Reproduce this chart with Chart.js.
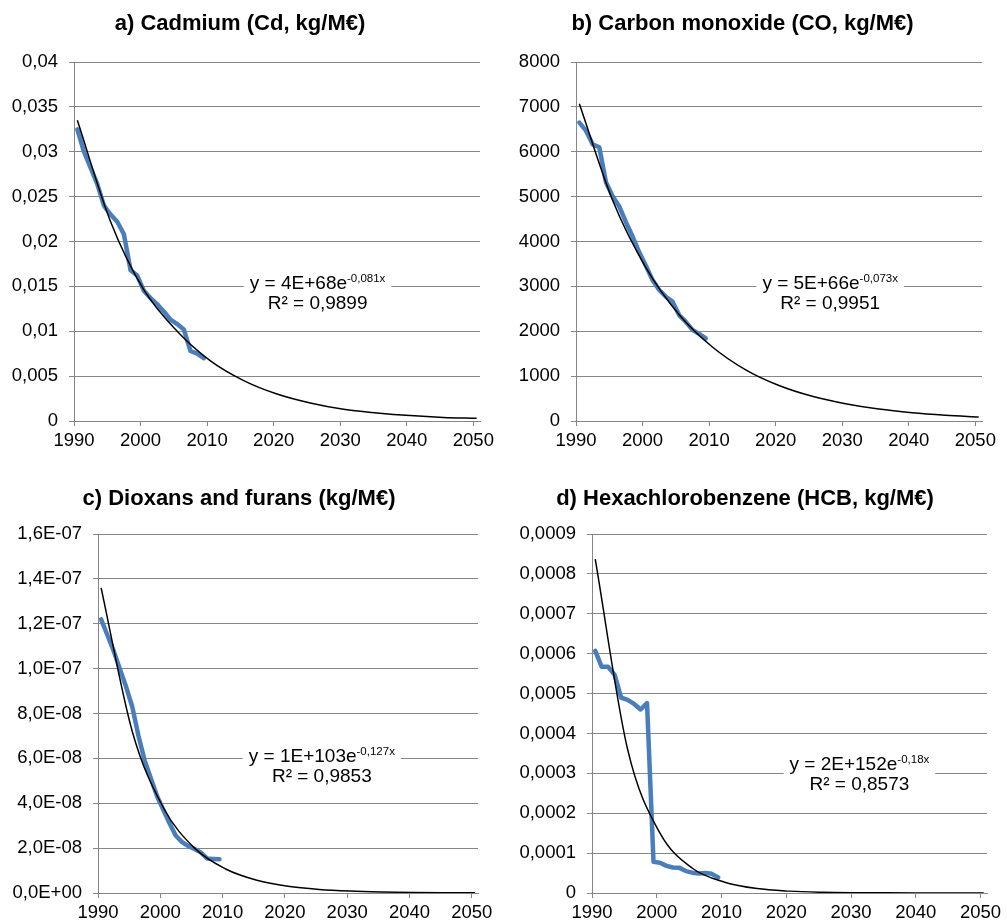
<!DOCTYPE html>
<html>
<head>
<meta charset="utf-8">
<script src="https://cdn.jsdelivr.net/npm/chart.js@4.4.0/dist/chart.umd.min.js"></script>
<style>
  body { margin: 0; background: #fff; }
  .panel { position: absolute; }
  canvas { display: block; }
</style>
</head>
<body>
<div class="panel" style="left:0;top:0"><canvas id="cd" width="503" height="461"></canvas></div>
<div class="panel" style="left:503px;top:0"><canvas id="co" width="504" height="461"></canvas></div>
<div class="panel" style="left:0;top:461px"><canvas id="pcdd" width="503" height="462"></canvas></div>
<div class="panel" style="left:503px;top:461px"><canvas id="hcb" width="504" height="462"></canvas></div>
<script>
// yearly intensities, Excel plotted them at mid-year
var years = [1990, 1991, 1992, 1993, 1994, 1995, 1996, 1997, 1998, 1999,
             2000, 2001, 2002, 2003, 2004, 2005, 2006, 2007, 2008, 2009];
var trendYears = [1990, 1995, 2000, 2005, 2010, 2015, 2020, 2025, 2030, 2035, 2040, 2045, 2050];
var xTicks = [1990, 2000, 2010, 2020, 2030, 2040, 2050];
var MID_YEAR = 0.5;

var cadmium = [0.0325, 0.0300, 0.0282, 0.0264, 0.0240, 0.0230, 0.0222, 0.0208, 0.0168, 0.0162,
               0.0145, 0.0137, 0.0130, 0.0122, 0.0113, 0.0108, 0.0102, 0.0078, 0.0075, 0.0070];
var cadmiumTrend = [0.0335, 0.0222, 0.0146, 0.0100, 0.0067, 0.0045, 0.0030, 0.0020, 0.0013, 0.0009, 0.0006, 0.0004, 0.0003];

var carbonMonoxide = [6650, 6470, 6165, 6100, 5320, 5010, 4780, 4430, 4110, 3760,
                      3460, 3140, 2920, 2770, 2660, 2360, 2210, 2030, 1940, 1840];
var carbonMonoxideTrend = [7070, 4920, 3420, 2370, 1650, 1140, 790, 550, 385, 265, 185, 130, 90];

var dioxins = [1.22e-7, 1.15e-7, 1.08e-7, 1.0e-7, 9.2e-8, 8.3e-8, 7.0e-8, 5.9e-8, 5.1e-8, 4.3e-8,
               3.7e-8, 3.1e-8, 2.55e-8, 2.27e-8, 2.09e-8, 1.96e-8, 1.81e-8, 1.54e-8, 1.52e-8, 1.5e-8];
var dioxinsTrend = [1.36e-7, 7.2e-8, 3.8e-8, 2.0e-8, 1.07e-8, 5.7e-9, 3.0e-9, 1.6e-9, 8.5e-10, 4.5e-10, 2.4e-10, 1.3e-10, 7e-11];

var hcb = [6.07e-4, 5.67e-4, 5.67e-4, 5.47e-4, 4.9e-4, 4.84e-4, 4.74e-4, 4.6e-4, 4.76e-4, 7.8e-5,
           7.6e-5, 6.8e-5, 6.4e-5, 6.3e-5, 5.5e-5, 5.1e-5, 4.9e-5, 5.0e-5, 4.8e-5, 3.9e-5];
var hcbTrend = [8.37e-4, 3.6e-4, 1.5e-4, 6.2e-5, 2.7e-5, 1.1e-5, 4.7e-6, 2.0e-6, 8.5e-7, 3.6e-7, 1.5e-7, 6e-8, 2.7e-8];

var FONT = '"Liberation Sans", Arial, sans-serif';
var GRID = '#868686';
var BLUE = '#4a7ebb';

function points(xs, ys) {
    return xs.map(function (x, i) { return { x: x + MID_YEAR, y: ys[i] }; });
}

function decimal(v) {
    return v === 0 ? '0' : String(+v.toFixed(6)).replace('.', ',');
}
function scientific(v) {
    return v.toExponential(1).replace('.', ',').replace(/e([+-])(\d+)$/, function (m, s, d) {
        return 'E' + s + (d.length < 2 ? '0' + d : d);
    });
}

// Excel style trendline equation box
var equationLabel = {
    id: 'equationLabel',
    afterDatasetsDraw: function (chart, args, o) {
        var ctx = chart.ctx, a = chart.chartArea;
        var cx = a.left + o.fx * a.width, cy = a.top + o.fy * a.height;
        var big = '19px ' + FONT, small = '11.5px ' + FONT;
        ctx.save();
        ctx.font = big;
        var w1 = ctx.measureText(o.base).width, w3 = ctx.measureText(o.r2).width;
        ctx.font = small;
        var w2 = ctx.measureText(o.exp).width;
        var left = cx - (w1 + w2) / 2;
        var half = Math.max(w1 + w2, w3) / 2 + 6;
        ctx.fillStyle = '#fff';
        ctx.fillRect(cx - half, cy - 12, half * 2, 44);
        ctx.fillStyle = '#000';
        ctx.textBaseline = 'middle';
        ctx.textAlign = 'left';
        ctx.font = big;
        ctx.fillText(o.base, left, cy);
        ctx.font = small;
        ctx.fillText(o.exp, left + w1, cy - 5);
        ctx.textAlign = 'center';
        ctx.font = big;
        ctx.fillText(o.r2, cx, cy + 20);
        ctx.restore();
    }
};

function makeChart(id, p) {
    return new Chart(document.getElementById(id), {
        type: 'scatter',
        data: {
            datasets: [{
                data: points(trendYears, p.trend),
                showLine: true,
                borderColor: '#000',
                borderWidth: 1.5,
                pointRadius: 0,
                cubicInterpolationMode: 'monotone'
            }, {
                data: points(years, p.values),
                showLine: true,
                borderColor: BLUE,
                borderWidth: 4.5,
                borderCapStyle: 'round',
                borderJoinStyle: 'round',
                pointRadius: 0,
                tension: 0
            }]
        },
        plugins: [equationLabel],
        options: {
            responsive: false,
            animation: false,
            layout: { padding: { left: 0, right: p.padRight, top: 0, bottom: 0 } },
            plugins: {
                legend: { display: false },
                tooltip: { enabled: false },
                title: {
                    display: true,
                    text: p.title,
                    color: '#000',
                    font: { family: FONT, size: 22, weight: 'bold', lineHeight: 1.2 },
                    padding: { top: p.titleTop, bottom: p.titleBottom }
                },
                equationLabel: p.eq
            },
            scales: {
                x: {
                    type: 'linear',
                    min: 1990,
                    max: 2051,
                    afterBuildTicks: function (s) {
                        s.ticks = xTicks.map(function (v) { return { value: v }; });
                    },
                    afterFit: function (s) { s.height = p.xAxisHeight; },
                    ticks: {
                        color: '#000',
                        padding: 4,
                        maxRotation: 0,
                        autoSkip: false,
                        font: { family: FONT, size: 18.5 },
                        callback: function (v) { return String(v); }
                    },
                    grid: { drawOnChartArea: false, color: GRID, tickLength: 5 },
                    border: { color: GRID }
                },
                y: {
                    min: 0,
                    max: p.yMax,
                    afterFit: function (s) { s.width = p.yAxisWidth; },
                    ticks: {
                        stepSize: p.yStep,
                        color: '#000',
                        padding: 11,
                        font: { family: FONT, size: 18.5 },
                        callback: p.format
                    },
                    grid: { color: GRID, tickLength: 5 },
                    border: { color: GRID }
                }
            }
        }
    });
}

makeChart('cd', {
    title: 'a) Cadmium (Cd, kg/M€)',
    values: cadmium, trend: cadmiumTrend,
    yMax: 0.04, yStep: 0.005, format: decimal,
    yAxisWidth: 74, xAxisHeight: 40, padRight: 23, titleTop: 10.8, titleBottom: 24.8,
    eq: { base: 'y = 4E+68e', exp: '-0,081x', r2: 'R² = 0,9899', fx: 0.600, fy: 0.618 }
});
makeChart('co', {
    title: 'b) Carbon monoxide (CO, kg/M€)',
    values: carbonMonoxide, trend: carbonMonoxideTrend,
    yMax: 8000, yStep: 1000, format: function (v) { return String(v); },
    yAxisWidth: 73, xAxisHeight: 40, padRight: 25, titleTop: 10.8, titleBottom: 24.8,
    eq: { base: 'y = 5E+66e', exp: '-0,073x', r2: 'R² = 0,9951', fx: 0.626, fy: 0.618 }
});
makeChart('pcdd', {
    title: 'c) Dioxans and furans (kg/M€)',
    values: dioxins, trend: dioxinsTrend,
    yMax: 1.6e-7, yStep: 2e-8, format: scientific,
    yAxisWidth: 98, xAxisHeight: 30, padRight: 25, titleTop: 24.8, titleBottom: 21.8,
    eq: { base: 'y = 1E+103e', exp: '-0,127x', r2: 'R² = 0,9853', fx: 0.589, fy: 0.621 }
});
makeChart('hcb', {
    title: 'd) Hexachlorobenzene (HCB, kg/M€)',
    values: hcb, trend: hcbTrend,
    yMax: 0.0009, yStep: 0.0001, format: decimal,
    yAxisWidth: 89, xAxisHeight: 30, padRight: 20, titleTop: 24.8, titleBottom: 21.8,
    eq: { base: 'y = 2E+152e', exp: '-0,18x', r2: 'R² = 0,8573', fx: 0.677, fy: 0.643 }
});
</script>
</body>
</html>
